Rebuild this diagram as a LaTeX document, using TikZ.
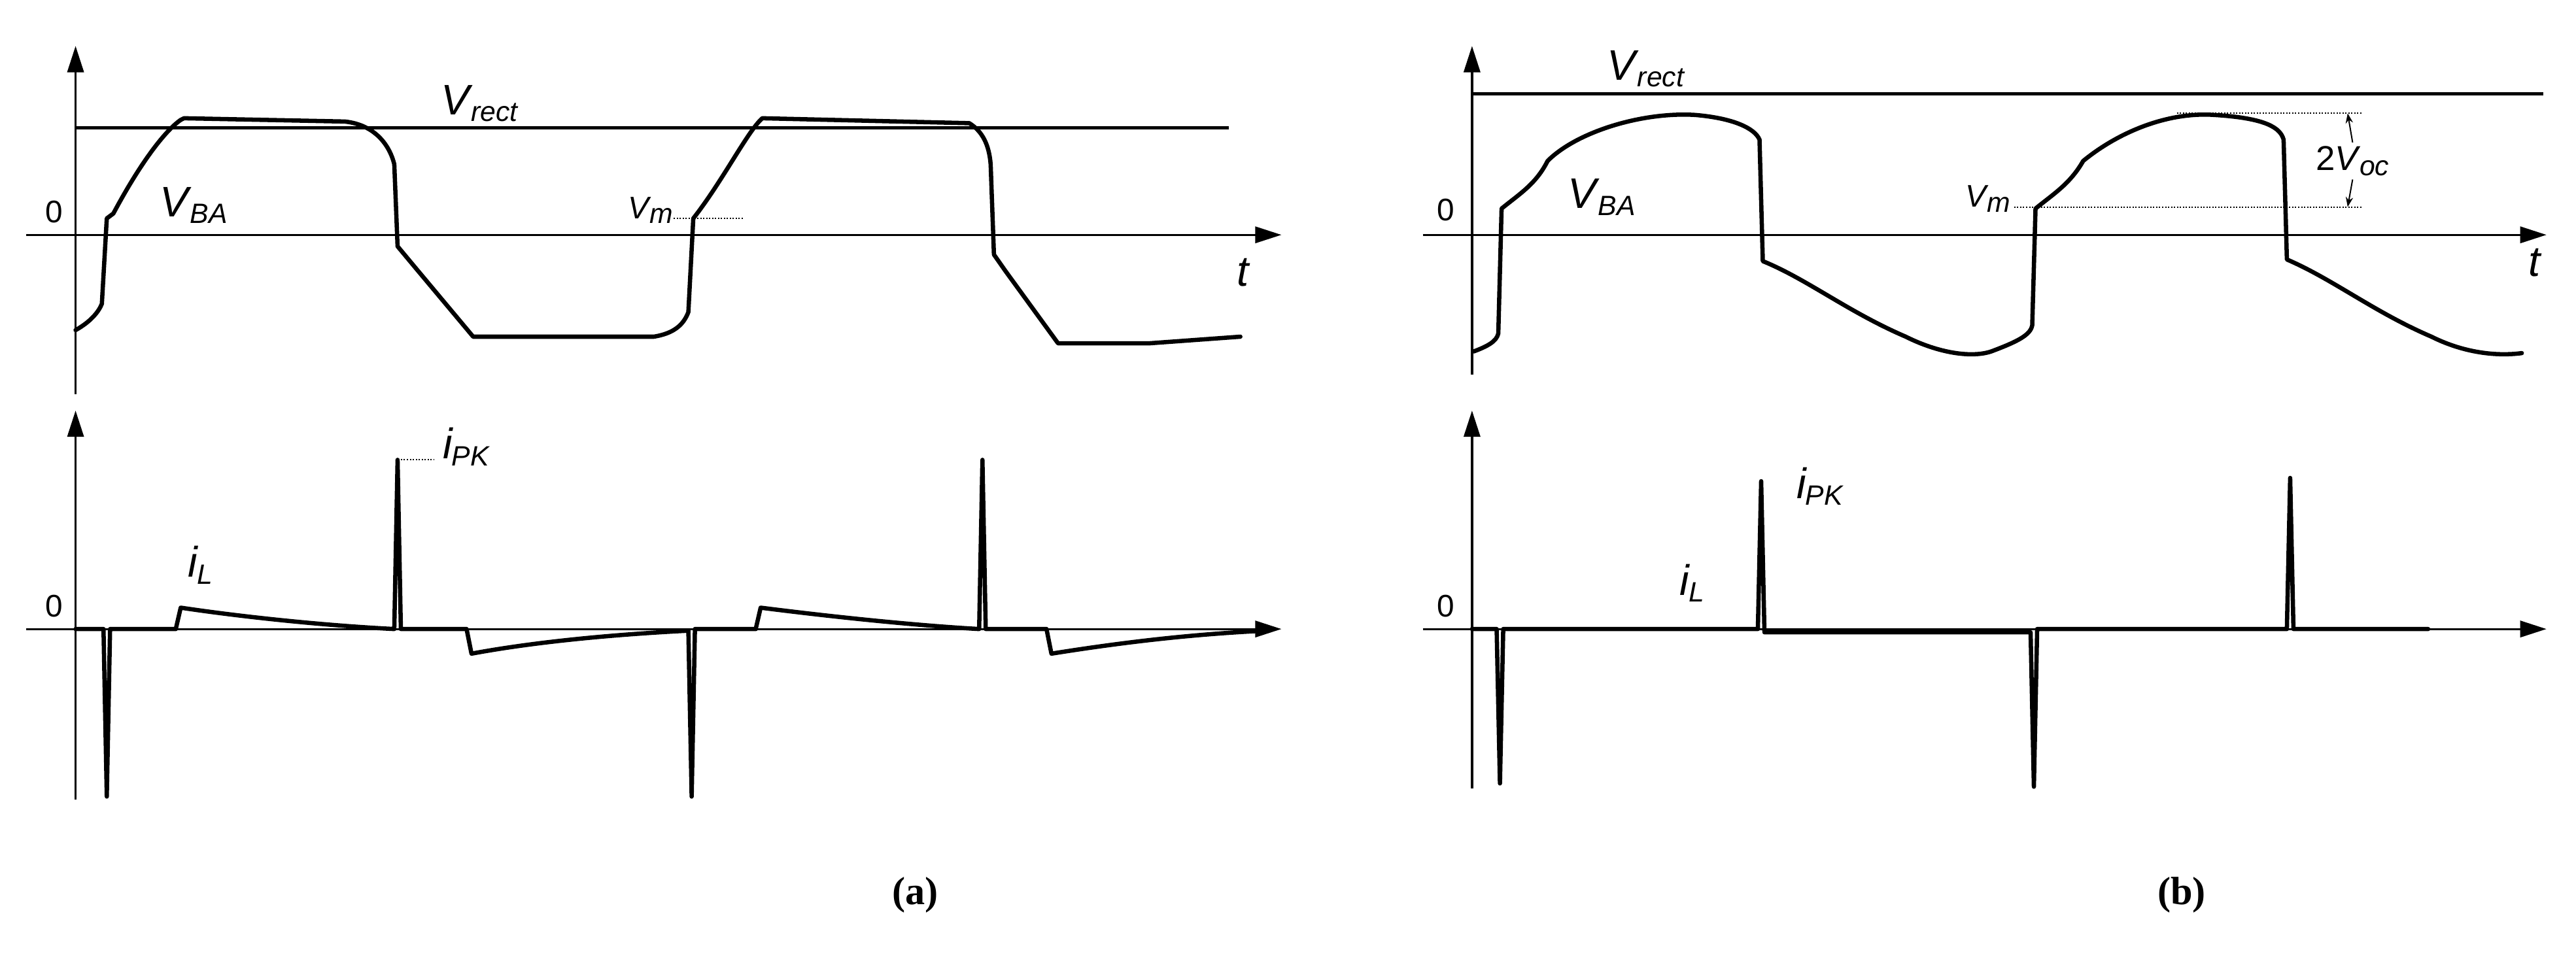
\documentclass[tikz,border=0pt]{standalone}
\usepackage{fontspec}
\setmainfont{Liberation Sans}
\usetikzlibrary{arrows.meta}
\newcommand{\lbl}[2]{\textit{#1}\kern-0.04em\raisebox{-0.3ex}{\fontsize{17}{17}\selectfont\textit{#2}}}
\begin{document}
\begin{tikzpicture}[x=1pt,y=-1pt,
  ax/.style={line width=1.3pt,-{Triangle[length=16pt,width=10pt]}},
  wave/.style={line width=2.6pt,line join=round,line cap=round},
  lvl/.style={line width=2pt},
  dots/.style={line width=0.8pt,densely dotted},
  lab/.style={font=\fontsize{26}{26}\selectfont,inner sep=1pt},
  zero/.style={font=\fontsize{19}{19}\selectfont,inner sep=1pt}]
\useasboundingbox (0,0) rectangle (1568,586);
% ---------- (a) top
\coordinate (a1b) at (46,240); \coordinate (a1t) at (46,28);
\coordinate (a1l) at (16,143); \coordinate (a1r) at (780,143);
\draw[ax] (a1b) -- (a1t);
\draw[ax] (a1l) -- (a1r);
\draw[lvl] (46,78) -- (748,78);
\node[zero] (z1) at (33,129) {0};
\node[lab] (vr1) at (292,63) {\lbl{V}{rect}};
\node[lab] (vb1) at (118,125) {\lbl{V}{BA}};
\node[lab] (t1) at (757,166) {\textit{t}};
\node[lab,font=\fontsize{19}{19}\selectfont] (vm1) at (396,128) {\lbl{V}{m}};
\draw[dots] (410,133) -- (453,133);
\draw[wave] (46,201) .. controls (55,196) and (60,190) .. (62,185) -- (65,133) -- (69,130)
  .. controls (85,100) and (100,80) .. (110,73) -- (112,72) -- (210,74)
  .. controls (228,76) and (237,88) .. (240,100) -- (242,150) -- (252,162)
  -- (288,205) -- (398,205) .. controls (410,203) and (416,198) .. (419,190)
  -- (422,133) .. controls (440,110) and (455,80) .. (464,72) -- (590,75)
  .. controls (598,80) and (602,88) .. (603,100) -- (605,155) -- (612,165)
  -- (644,209) -- (700,209) -- (755,205);
% ---------- (a) bottom
\coordinate (a2b) at (46,487); \coordinate (a2t) at (46,250);
\coordinate (a2l) at (16,383); \coordinate (a2r) at (780,383);
\draw[ax] (a2b) -- (a2t);
\draw[ax] (a2l) -- (a2r);
\node[zero] (z2) at (33,369) {0};
\node[lab] (il1) at (122,344) {\lbl{i}{L}};
\node[lab] (ip1) at (284,272) {\lbl{i}{PK}};
\draw[dots] (244,280) -- (264,280);
\draw[wave] (46,383) -- (63,383) -- (65,485) -- (67,383) -- (107,383) -- (110,370)
  .. controls (150,376) and (200,381) .. (240,383) -- (242,280) -- (244,383)
  -- (284,383) -- (287,398) .. controls (330,390) and (380,386) .. (419,384)
  -- (421,485) -- (423,383) -- (460,383) -- (463,370)
  .. controls (510,376) and (560,381) .. (596,383) -- (598,280) -- (600,383)
  -- (637,383) -- (640,398) .. controls (690,390) and (730,386) .. (770,384);
% ---------- (b) top
\coordinate (b1b) at (896,228); \coordinate (b1t) at (896,28);
\coordinate (b1l) at (866,143); \coordinate (b1r) at (1550,143);
\draw[ax] (b1b) -- (b1t);
\draw[ax] (b1l) -- (b1r);
\draw[lvl] (896,57) -- (1548,57);
\node[zero] (z3) at (880,128) {0};
\node[lab] (vr2) at (1002,42) {\lbl{V}{rect}};
\node[lab] (vb2) at (975,120) {\lbl{V}{BA}};
\node[lab] (t2) at (1543,160) {\textit{t}};
\node[lab,font=\fontsize{19}{19}\selectfont] (vm2) at (1210,121) {\lbl{V}{m}};
\draw[dots] (1226,126) -- (1438,126);
\draw[dots] (1325,69) -- (1438,69);
\node[lab,font=\fontsize{21}{21}\selectfont,fill=white,inner sep=2pt] (voc) at (1432,98) {2\lbl{V}{oc}};
\draw[line width=0.8pt,-{Stealth[length=6pt]}] (voc.north) -- (1429,69);
\draw[line width=0.8pt,-{Stealth[length=6pt]}] (voc.south) -- (1429,126);
\draw[wave] (897,214) .. controls (905,211) and (911,208) .. (912,203) -- (914,127)
  .. controls (925,118) and (935,112) .. (942,98) .. controls (960,80) and (1000,68) .. (1032,70)
  .. controls (1055,72) and (1068,78) .. (1071,85) -- (1073,159)
  .. controls (1100,170) and (1125,190) .. (1160,205)
  .. controls (1180,215) and (1200,218) .. (1212,214) .. controls (1228,208) and (1236,204) .. (1237,198)
  -- (1239,127) .. controls (1250,118) and (1260,112) .. (1268,98)
  .. controls (1290,80) and (1320,68) .. (1348,70) .. controls (1380,72) and (1388,78) .. (1390,85)
  -- (1392,158) .. controls (1420,170) and (1445,190) .. (1480,205)
  .. controls (1500,215) and (1520,217) .. (1535,215);
% ---------- (b) bottom
\coordinate (b2b) at (896,480); \coordinate (b2t) at (896,250);
\coordinate (b2l) at (866,383); \coordinate (b2r) at (1550,383);
\draw[ax] (b2b) -- (b2t);
\draw[ax] (b2l) -- (b2r);
\node[zero] (z4) at (880,369) {0};
\node[lab] (il2) at (1030,355) {\lbl{i}{L}};
\node[lab] (ip2) at (1108,296) {\lbl{i}{PK}};
\draw[wave] (896,383) -- (911,383) -- (913,477) -- (915,383) -- (1070,383) -- (1072,293)
  -- (1074,385) -- (1236,385) -- (1238,479) -- (1240,383) -- (1392,383) -- (1394,291)
  -- (1396,383) -- (1478,383);
% ---------- captions
\node (ca) at (557,545) {\setmainfont{Liberation Serif}\fontsize{24}{24}\selectfont\bfseries(a)};
\node (cb) at (1328,545) {\setmainfont{Liberation Serif}\fontsize{24}{24}\selectfont\bfseries(b)};
\end{tikzpicture}
\end{document}
